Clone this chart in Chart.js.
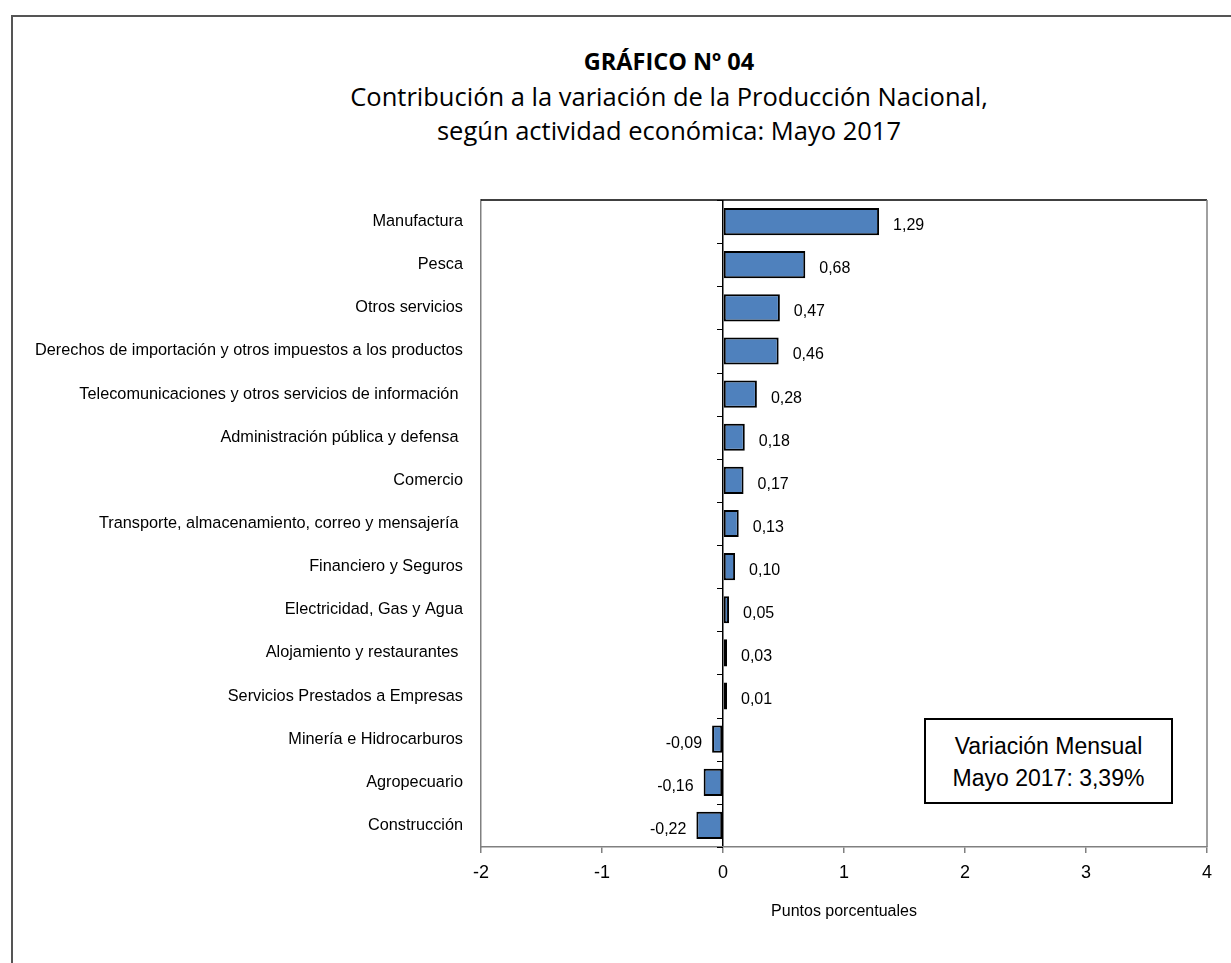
<!DOCTYPE html>
<html lang="es">
<head>
<meta charset="UTF-8">
<title>Gráfico Nº 04</title>
<script src="https://cdn.jsdelivr.net/npm/chart.js@4.4.0/dist/chart.umd.min.js"></script>
<style>
  body { margin: 0; background: #fff; width: 1231px; height: 963px; overflow: hidden; position: relative; }
  #marco { position: absolute; left: 11px; top: 15px; width: 1300px; height: 1000px; border: 2px solid #555; box-sizing: border-box; }
  #titulo { position: absolute; left: 269px; width: 800px; top: 43px; text-align: center; font-family: "Open Sans", sans-serif; color: #000; }
  #titulo .t1 { font-weight: bold; font-size: 23.5px; line-height: 36px; }
  #titulo .t2 { font-size: 25.5px; line-height: 34px; }
  #lienzo { position: absolute; left: 0; top: 0; }
  #recuadro { position: absolute; left: 924px; top: 718px; width: 249px; height: 86px; box-sizing: border-box;
              border: 2px solid #000; background: #fff; text-align: center;
              font-family: "Liberation Sans Narrow", "Arial Narrow", "Liberation Sans", sans-serif; font-size: 23px; line-height: 32px; padding-top: 10px; }
</style>
</head>
<body>
<div id="marco"></div>
<div id="titulo">
  <div class="t1">GRÁFICO Nº 04</div>
  <div class="t2">Contribución a la variación de la Producción Nacional,</div>
  <div class="t2">según actividad económica: Mayo 2017</div>
</div>
<canvas id="lienzo" width="1231" height="963"></canvas>
<div id="recuadro">Variación Mensual<br>Mayo 2017: 3,39%</div>

<script>
const categorias = [
  "Manufactura",
  "Pesca",
  "Otros servicios",
  "Derechos de importación y otros impuestos a los productos",
  "Telecomunicaciones y otros servicios de información ",
  "Administración pública y defensa ",
  "Comercio",
  "Transporte, almacenamiento, correo y mensajería ",
  "Financiero y Seguros",
  "Electricidad, Gas y Agua",
  "Alojamiento y restaurantes ",
  "Servicios Prestados a Empresas",
  "Minería e Hidrocarburos",
  "Agropecuario",
  "Construcción"
];

const valores = [1.29, 0.68, 0.47, 0.46, 0.28, 0.18, 0.17, 0.13, 0.10, 0.05, 0.03, 0.01, -0.09, -0.16, -0.22];

const ticksX = [-2, -1, 0, 1, 2, 3, 4];

const fuente = '"Liberation Sans Narrow", "Arial Narrow", "Liberation Sans", sans-serif';

// etiquetas de valor, borde del area y marcas del eje en cero
const etiquetasPlugin = {
  id: "etiquetas",
  afterDatasetsDraw(chart) {
    const ctx = chart.ctx;
    const area = chart.chartArea;
    const xs = chart.scales.x;
    const meta = chart.getDatasetMeta(0);
    ctx.save();

    ctx.lineWidth = 1.5;
    ctx.strokeStyle = "#000";
    ctx.beginPath();
    ctx.moveTo(area.left, area.top);
    ctx.lineTo(area.right, area.top);
    ctx.stroke();
    ctx.strokeStyle = "#808080";
    ctx.beginPath();
    ctx.moveTo(area.right, area.top);
    ctx.lineTo(area.right, area.bottom);
    ctx.stroke();

    const x0 = xs.getPixelForValue(0);
    const paso = (area.bottom - area.top) / categorias.length;
    ctx.strokeStyle = "#000";
    ctx.lineWidth = 1;
    for (let i = 0; i <= categorias.length; i++) {
      const y = Math.round(area.top + i * paso) + 0.5;
      ctx.beginPath();
      ctx.moveTo(x0 - 6, y);
      ctx.lineTo(x0, y);
      ctx.stroke();
    }

    ctx.font = "16px " + fuente;
    ctx.fillStyle = "#000";
    ctx.textBaseline = "middle";
    meta.data.forEach((bar, i) => {
      const v = valores[i];
      const txt = v.toFixed(2).replace(".", ",");
      if (v >= 0) {
        ctx.textAlign = "left";
        ctx.fillText(txt, bar.x + 14, bar.y + 4);
      } else {
        ctx.textAlign = "right";
        ctx.fillText(txt, bar.x - 10, bar.y + 4);
      }
    });
    ctx.restore();
  }
};

new Chart(document.getElementById("lienzo").getContext("2d"), {
  type: "bar",
  data: {
    labels: categorias,
    datasets: [{
      data: valores,
      backgroundColor: "#4F81BD",
      borderColor: "#000",
      borderWidth: 2,
      borderSkipped: false,
      barPercentage: 0.63,
      categoryPercentage: 1,
      minBarLength: 4
    }]
  },
  options: {
    indexAxis: "y",
    responsive: false,
    animation: false,
    layout: { padding: { left: 0, right: 24, top: 200, bottom: 0 } },
    plugins: {
      legend: { display: false },
      title: { display: false },
      tooltip: { enabled: false }
    },
    scales: {
      x: {
        min: ticksX[0],
        max: ticksX[ticksX.length - 1],
        afterBuildTicks: s => { s.ticks = ticksX.map(v => ({ value: v })); },
        afterFit: s => { s.height = 116; },
        grid: {
          color: c => (c.tick && c.tick.value === 0 ? "#000" : "rgba(0,0,0,0)"),
          lineWidth: 1.5,
          tickColor: "#808080",
          tickLength: 6
        },
        border: { display: true, color: "#808080", width: 1.5 },
        ticks: { color: "#000", padding: 9, font: { family: fuente, size: 18 } },
        title: {
          display: true,
          text: "Puntos porcentuales",
          color: "#000",
          font: { family: fuente, size: 16 },
          padding: { top: 0, bottom: 42 }
        }
      },
      y: {
        afterFit: s => { s.width = 481; },
        grid: { display: false, drawTicks: false },
        border: { display: true, color: "#808080", width: 1.5 },
        ticks: { color: "#000", padding: 18, font: { family: fuente, size: 16.3 } }
      }
    }
  },
  plugins: [etiquetasPlugin]
});
</script>
</body>
</html>
